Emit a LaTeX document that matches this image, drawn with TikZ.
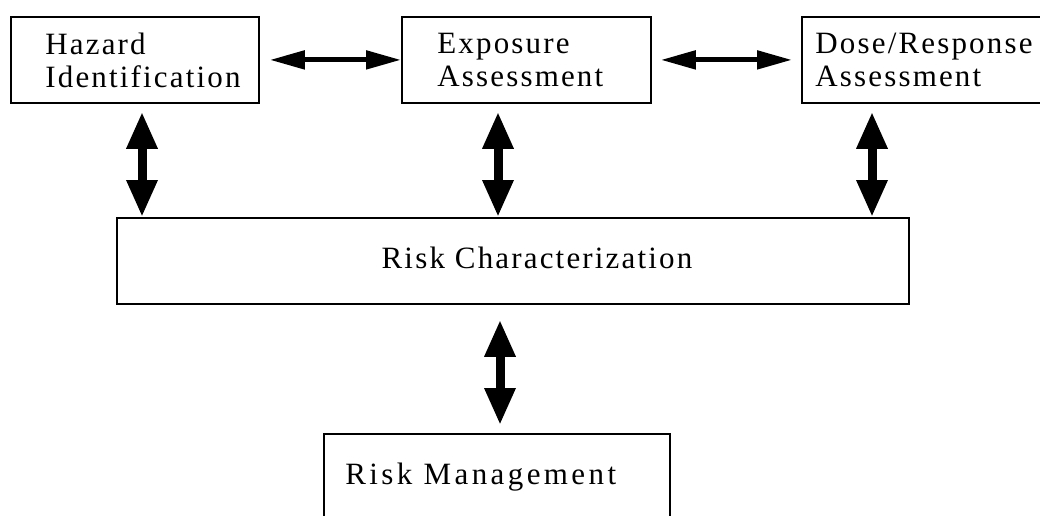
\documentclass[tikz,border=0pt]{standalone}
\usepackage{fontspec}
\setmainfont{Liberation Serif}
\newfontfamily\spaced[LetterSpace=7]{Liberation Serif}
\newfontfamily\wide[LetterSpace=11]{Liberation Serif}
\usetikzlibrary{arrows.meta}

\tikzset{
  box/.style={draw, line width=0.9pt, fill=white, inner sep=0pt, anchor=north west},
  lbl/.style={inner sep=0pt, align=left, font=\spaced\fontsize{15.5}{16.5}\selectfont},
  harrow/.style={line width=2.5pt, {Triangle[length=17.5pt, width=9pt]}-{Triangle[length=17.5pt, width=9pt]}},
  varrow/.style={line width=4.5pt, {Triangle[length=18.5pt, width=14.5pt]}-{Triangle[length=18.5pt, width=14.5pt]}}
}

\begin{document}
\begin{tikzpicture}[x=0.5pt, y=-0.5pt]
  \useasboundingbox (0,0) rectangle (1040,515);
  \clip (0,0) rectangle (1040,515);

  % boxes
  \node[box, minimum width=124pt, minimum height=43pt] (haz) at (10,16) {};
  \node[box, minimum width=124.5pt, minimum height=43pt] (exp) at (401,16) {};
  \node[box, minimum width=130pt, minimum height=43pt] (dose) at (801,16) {};
  \node[box, minimum width=396pt, minimum height=43pt] (rc) at (116,217) {};
  \node[box, minimum width=173pt, minimum height=55pt] (rm) at (323,433) {};

  % labels
  \node[lbl, anchor=west] (hazT) at (45,60) {Hazard\\Identification};
  \node[lbl, anchor=west] (expT) at (437,60) {Exposure\\Assessment};
  \node[lbl, anchor=west] (doseT) at (815,60) {Dose/Response\\Assessment};
  \node[lbl, anchor=base] (rcT) at (537,268) {Risk Characterization};
  \node[lbl, anchor=base west, font=\wide\fontsize{15.5}{16.5}\selectfont] (rmT) at (345,484) {Risk Management};

  % columns of the vertical links
  \coordinate (c1) at (142,0);
  \coordinate (c2) at (498,0);
  \coordinate (c3) at (872,0);
  \coordinate (c4) at (500,0);

  % horizontal links
  \draw[harrow, shorten <=5pt] (haz.east) -- (exp.west);
  \draw[harrow, shorten <=4.5pt, shorten >=4.5pt] (exp.east) -- (dose.west);

  % vertical links
  \draw[varrow, shorten <=4pt] (c1 |- haz.south) -- (c1 |- rc.north);
  \draw[varrow, shorten <=4pt] (c2 |- exp.south) -- (c2 |- rc.north);
  \draw[varrow, shorten <=4pt] (c3 |- dose.south) -- (c3 |- rc.north);
  \draw[varrow, shorten <=7.5pt, shorten >=4pt] (c4 |- rc.south) -- (c4 |- rm.north);
\end{tikzpicture}
\end{document}
